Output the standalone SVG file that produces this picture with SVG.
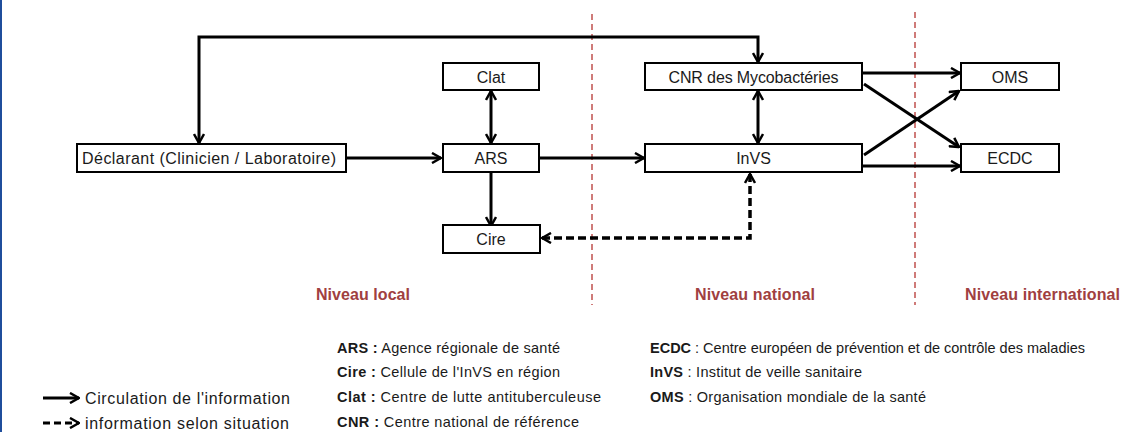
<svg xmlns="http://www.w3.org/2000/svg" width="1121" height="432" viewBox="0 0 1121 432">
<defs>
<style>
.box{fill:#fff;stroke:#000;stroke-width:2}
.lbl{font-family:"Liberation Sans",Arial,sans-serif;font-size:16px;fill:#1a1a1a;text-anchor:middle}
.con{fill:none;stroke:#000;stroke-width:3}
.dash{fill:none;stroke:#000;stroke-width:3.5;stroke-dasharray:8 4}
.sep{fill:none;stroke:#c0504d;stroke-width:1.5;stroke-dasharray:6 4}
.lvl{font-family:"Liberation Sans",Arial,sans-serif;font-size:16px;font-weight:bold;fill:#a0403f}
.leg{font-family:"Liberation Sans",Arial,sans-serif;font-size:14.5px;fill:#1a1a1a}
.legbig{font-family:"Liberation Sans",Arial,sans-serif;font-size:16px;fill:#1a1a1a}
</style>
<marker id="ah" viewBox="0 0 12 12" refX="11" refY="6" markerWidth="12" markerHeight="12" markerUnits="userSpaceOnUse" orient="auto-start-reverse">
<path d="M2,1 L11,6 L2,11" fill="none" stroke="#000" stroke-width="2.5"/>
</marker>
</defs>
<rect x="0" y="0" width="1121" height="432" fill="#fff"/>
<rect x="0" y="0" width="2" height="432" fill="#1f4e9c"/>
<g id="separators">
<line class="sep" x1="592" y1="14" x2="592" y2="305"/>
<line class="sep" x1="915" y1="12" x2="915" y2="305"/>
</g>
<g id="connectors">
<path class="con" d="M199,143 V37 H758 V62" marker-start="url(#ah)" marker-end="url(#ah)"/>
<path class="con" d="M347,158 H441" marker-end="url(#ah)"/>
<path class="con" d="M540,158 H644" marker-end="url(#ah)"/>
<path class="con" d="M491,91 V143" marker-start="url(#ah)" marker-end="url(#ah)"/>
<path class="con" d="M758,91 V143" marker-start="url(#ah)" marker-end="url(#ah)"/>
<path class="con" d="M491,173 V226" marker-end="url(#ah)"/>
<path class="con" d="M863,73 H960" marker-end="url(#ah)"/>
<path class="con" d="M864,84 L959,147" marker-end="url(#ah)"/>
<path class="con" d="M864,155 L959,91" marker-end="url(#ah)"/>
<path class="con" d="M863,166 H960" marker-end="url(#ah)"/>
<path class="dash" d="M542,238 H750 V174" marker-start="url(#ah)" marker-end="url(#ah)"/>
</g>
<g id="declarant"><rect class="box" x="77" y="144" width="269" height="28"/><text class="lbl" x="209" y="164" textLength="254" lengthAdjust="spacing">Déclarant (Clinicien / Laboratoire)</text></g>
<g id="clat"><rect class="box" x="443" y="63" width="96" height="27"/><text class="lbl" x="491" y="82.5">Clat</text></g>
<g id="ars"><rect class="box" x="443" y="144" width="96" height="28"/><text class="lbl" x="491" y="164">ARS</text></g>
<g id="cire"><rect class="box" x="443" y="225" width="97" height="28"/><text class="lbl" x="491" y="245">Cire</text></g>
<g id="cnr"><rect class="box" x="645" y="63" width="217" height="27"/><text class="lbl" x="753.5" y="82.5" textLength="170" lengthAdjust="spacing">CNR des Mycobactéries</text></g>
<g id="invs"><rect class="box" x="645" y="144" width="217" height="28"/><text class="lbl" x="753.5" y="164">InVS</text></g>
<g id="oms"><rect class="box" x="961" y="63" width="98" height="27"/><text class="lbl" x="1010" y="82.5">OMS</text></g>
<g id="ecdc"><rect class="box" x="961" y="144" width="98" height="28"/><text class="lbl" x="1010" y="164">ECDC</text></g>
<g id="levels">
<text class="lvl" x="316" y="300" textLength="94" lengthAdjust="spacing">Niveau local</text>
<text class="lvl" x="695" y="300" textLength="120" lengthAdjust="spacing">Niveau national</text>
<text class="lvl" x="965" y="300" textLength="155" lengthAdjust="spacing">Niveau international</text>
</g>
<g id="legend">
<path class="con" d="M43,398 H79" marker-end="url(#ah)"/>
<path fill="none" stroke="#000" stroke-width="3" stroke-dasharray="7 4" d="M43,423 H79" marker-end="url(#ah)"/>
<text class="legbig" x="85" y="404" textLength="205" lengthAdjust="spacing">Circulation de l'information</text>
<text class="legbig" x="85" y="429" textLength="204" lengthAdjust="spacing">information selon situation</text>
</g>
<g id="abbreviations">
<text class="leg" x="337" y="353" textLength="223" lengthAdjust="spacing"><tspan font-weight="bold">ARS :</tspan> Agence régionale de santé</text>
<text class="leg" x="337" y="377" textLength="223" lengthAdjust="spacing"><tspan font-weight="bold">Cire :</tspan> Cellule de l'InVS en région</text>
<text class="leg" x="337" y="402" textLength="264" lengthAdjust="spacing"><tspan font-weight="bold">Clat :</tspan> Centre de lutte antituberculeuse</text>
<text class="leg" x="337" y="427" textLength="242" lengthAdjust="spacing"><tspan font-weight="bold">CNR :</tspan> Centre national de référence</text>
<text class="leg" x="650" y="353" textLength="435" lengthAdjust="spacing"><tspan font-weight="bold">ECDC</tspan> : Centre européen de prévention et de contrôle des maladies</text>
<text class="leg" x="650" y="377" textLength="212" lengthAdjust="spacing"><tspan font-weight="bold">InVS</tspan> : Institut de veille sanitaire</text>
<text class="leg" x="650" y="402" textLength="276" lengthAdjust="spacing"><tspan font-weight="bold">OMS</tspan> : Organisation mondiale de la santé</text>
</g>
</svg>
